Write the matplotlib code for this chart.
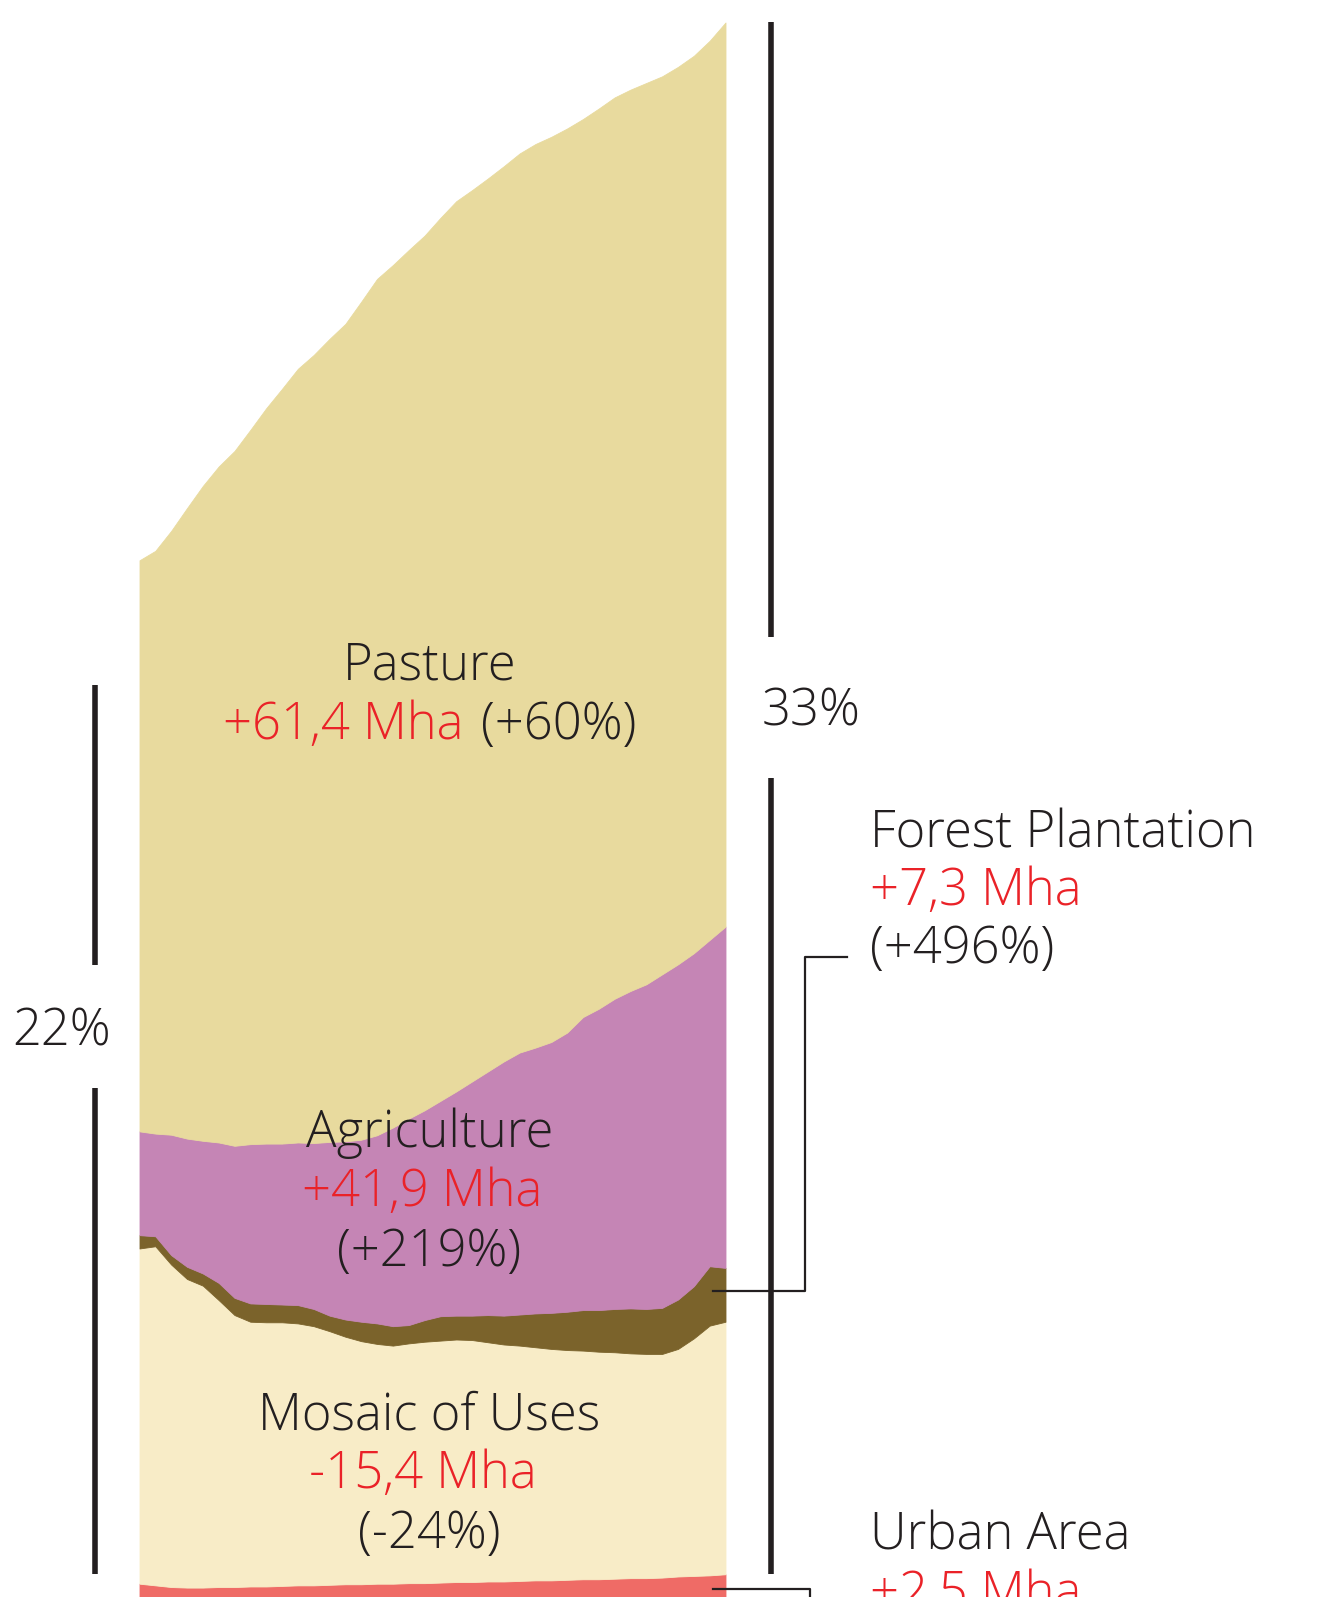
import matplotlib
matplotlib.use("Agg")
import matplotlib.pyplot as plt

# ---------------- data (Mha) ----------------
years = list(range(1985, 2023))

urban = [3.1, 2.8, 2.5, 2.4, 2.4, 2.5, 2.5, 2.6, 2.6, 2.7, 2.8, 2.8, 2.9, 3.0,
         3.0, 3.1, 3.1, 3.2, 3.2, 3.3, 3.4, 3.4, 3.5, 3.5, 3.6, 3.7, 3.7, 3.8,
         3.9, 3.9, 4.0, 4.1, 4.1, 4.2, 4.4, 4.5, 4.6, 4.8]

mosaic = [60.4, 61.1, 58.1, 55.6, 54.4, 51.7, 49.0, 47.7, 47.6, 47.5, 47.2, 46.7,
          45.7, 44.6, 43.8, 43.2, 42.9, 43.2, 43.5, 43.6, 43.7, 43.6, 43.1, 42.7,
          42.4, 42.0, 41.7, 41.4, 41.2, 41.0, 40.8, 40.5, 40.4, 40.3, 41.0, 42.8,
          45.0, 45.5]

forest = [2.4, 1.8, 1.7, 2.2, 2.2, 3.1, 3.1, 3.3, 3.3, 3.2, 3.3, 3.1, 2.8, 3.1,
          3.5, 3.7, 3.5, 3.3, 3.9, 4.4, 4.3, 4.4, 4.9, 5.2, 5.6, 6.1, 6.5, 6.9,
          7.3, 7.5, 7.8, 8.1, 8.1, 8.3, 8.9, 9.4, 10.7, 9.7]

agriculture = [18.7, 18.5, 21.7, 23.1, 23.9, 25.3, 27.4, 28.7, 28.9, 29.0, 29.3,
               29.9, 31.3, 32.1, 32.8, 33.9, 35.8, 37.2, 37.8, 38.8, 40.4, 42.2,
               43.9, 45.8, 47.2, 47.9, 48.8, 50.3, 52.8, 54.3, 55.9, 57.2, 58.5,
               60.1, 60.4, 60.0, 58.8, 61.5]

pasture = [102.9, 105.0, 108.8, 113.6, 118.0, 121.8, 125.2, 128.7, 132.5, 136.0,
           139.4, 142.0, 144.7, 147.3, 151.0, 154.3, 155.4, 156.5, 157.6, 159.1,
           160.4, 160.6, 160.9, 161.3, 162.0, 162.8, 163.1, 162.9, 161.8, 162.2,
           162.4, 162.4, 162.4, 161.8, 161.7, 161.7, 162.0, 162.9]

layer_colors = ["#EF6B66", "#F8ECC7", "#7B632B", "#C585B5", "#E8DA9E"]

labels_in = [
    ("Pasture", "+61,4 Mha", "(+60%)"),
    ("Agriculture", "+41,9 Mha", "(+219%)"),
    ("Mosaic of Uses", "-15,4 Mha", "(-24%)"),
]
labels_out = [
    ("Forest Plantation", "+7,3 Mha", "(+496%)"),
    ("Urban Area", "+2,5 Mha"),
]
share_left = "22%"
share_right = "33%"

# ---------------- figure ----------------
W, H = 1330, 1597
fig = plt.figure(figsize=(W / 100, H / 100), dpi=100)
fig.patch.set_facecolor("white")

ax = fig.add_axes([0, 0, 1, 1])
PX = 5.55        # pixels per Mha
BASE = 1600.9    # pixel row of the stack baseline (below the crop)
ax.set_ylim((BASE - H) / PX, BASE / PX)
x0, x1 = 139.5, 725.5
ypp = (years[-1] - years[0]) / (x1 - x0)
ax.set_xlim(years[0] - x0 * ypp, years[-1] + (W - x1) * ypp)
polys = ax.stackplot(years, urban, mosaic, forest, agriculture, pasture,
                     colors=layer_colors, linewidth=0.6)
for p, c in zip(polys, layer_colors):
    p.set_edgecolor(c)
ax.axis("off")

# overlay in pixel coordinates for annotations
ov = fig.add_axes([0, 0, 1, 1])
ov.set_xlim(0, W)
ov.set_ylim(H, 0)
ov.axis("off")
ov.patch.set_alpha(0)

FONT = ["Open Sans", "DejaVu Sans"]
FS = 36.5
BLACK = "#231F20"
RED = "#EA2228"
tk = dict(family=FONT, fontsize=FS, fontweight="light", va="baseline")

# brackets
lw_b = 4.0
ov.plot([94.7, 94.7], [685, 965], color=BLACK, lw=lw_b, solid_capstyle="butt")
ov.plot([94.7, 94.7], [1088, 1574], color=BLACK, lw=lw_b, solid_capstyle="butt")
ov.plot([771, 771], [22, 637], color=BLACK, lw=lw_b, solid_capstyle="butt")
ov.plot([771, 771], [778, 1574], color=BLACK, lw=lw_b, solid_capstyle="butt")
ov.text(62, 1046, share_left, ha="center", color=BLACK, **tk)
ov.text(811, 726, share_right, ha="center", color=BLACK, **tk)

# connectors
lw_c = 1.6
ov.plot([713, 804.5, 804.5, 847], [1291, 1291, 957, 957], color=BLACK, lw=lw_c)
ov.plot([713, 809.5, 809.5], [1589, 1589, 1610], color=BLACK, lw=lw_c)

# labels inside the chart
cx = 429.5
fig.canvas.draw()
renderer = fig.canvas.get_renderer()

name, chg, pct = labels_in[0]
ov.text(cx, 680, name, ha="center", color=BLACK, **tk)
t1 = ov.text(0, 739, chg, ha="left", color=RED, **tk)
t2 = ov.text(0, 739, pct, ha="left", color=BLACK, **tk)
w1 = t1.get_window_extent(renderer).width
w2 = t2.get_window_extent(renderer).width
gap = 17
start = cx - (w1 + gap + w2) / 2
t1.set_x(start)
t2.set_x(start + w1 + gap)

name, chg, pct = labels_in[1]
ov.text(cx, 1147, name, ha="center", color=BLACK, **tk)
ov.text(cx - 7, 1206, chg, ha="center", color=RED, **tk)
ov.text(cx, 1266, pct, ha="center", color=BLACK, **tk)

name, chg, pct = labels_in[2]
ov.text(cx, 1429, name, ha="center", color=BLACK, **tk)
ov.text(cx - 7, 1488, chg, ha="center", color=RED, **tk)
ov.text(cx, 1548, pct, ha="center", color=BLACK, **tk)

lx = 870.5
name, chg, pct = labels_out[0]
ov.text(lx, 847, name, ha="left", color=BLACK, **tk)
ov.text(lx, 905, chg, ha="left", color=RED, **tk)
ov.text(lx, 963, pct, ha="left", color=BLACK, **tk)

name, chg = labels_out[1]
ov.text(lx, 1549, name, ha="left", color=BLACK, **tk)
ov.text(lx, 1608, chg, ha="left", color=RED, **tk)

fig.savefig("out.png", dpi=100, facecolor="white")
